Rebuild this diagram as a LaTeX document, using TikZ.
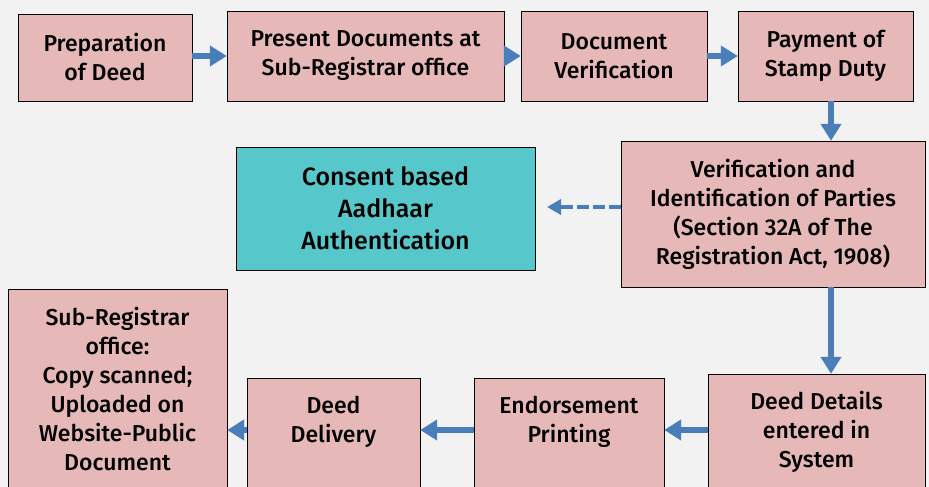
\documentclass[tikz,border=0pt]{standalone}
\usepackage{fontspec}
\setmainfont{Fira Sans}[UprightFont=* Medium]
\usepackage{tikz}
\usepackage{xcolor}
\usetikzlibrary{arrows.meta}
\definecolor{bg}{HTML}{F2F2F2}
\definecolor{rose}{HTML}{E6B8B7}
\definecolor{teal-box}{HTML}{56C7CA}
\definecolor{arrow-blue}{HTML}{4A7EBB}
\tikzset{
    step-box/.style = {draw=black, fill=rose, thin, rectangle, align=center, inner sep=2pt, font=\fontsize{23}{29}\selectfont},
    aadhaar-box/.style = {step-box, fill=teal-box, font=\fontsize{25}{32}\selectfont},
    flow-arrow/.style = {draw=arrow-blue, line width=6.5pt, -{Triangle[length=17pt, width=20pt]}},
    dash-arrow/.style = {draw=arrow-blue, line width=4.5pt, dash pattern=on 12pt off 4pt, -{Triangle[length=14pt, width=15pt]}},
}

\begin{document}
\begin{tikzpicture}[x=1pt, y=-1pt]
\useasboundingbox (0,0) rectangle (929,487);
\fill[bg] (0,0) rectangle (929,487);
% top row
\node[step-box, minimum width=174pt, minimum height=87pt] (prep) at (105,57.5) {Preparation\\of Deed};
\node[step-box, minimum width=277pt, minimum height=90pt] (present) at (365.5,56) {Present Documents at\\Sub-Registrar office};
\node[step-box, minimum width=186pt, minimum height=90pt] (docver) at (614,56) {Document\\Verification};
\node[step-box, minimum width=175pt, minimum height=90pt] (stamp) at (825.5,56) {Payment of\\Stamp Duty};
% middle row
\node[step-box, minimum width=304pt, minimum height=146pt] (identify) at (773,214) {Verification and\\Identification of Parties\\(Section 32A of The\\Registration Act, 1908)};
\node[aadhaar-box, minimum width=299pt, minimum height=123pt] (aadhaar) at (385.5,208.5) {Consent based\\Aadhaar\\Authentication};
\coordinate (aadhaar-tip) at (547,207);
% bottom row
\node[step-box, minimum width=217pt, minimum height=116pt] (details) at (816.5,432) {Deed Details\\entered in\\System};
\node[step-box, minimum width=190pt, minimum height=112pt] (endorse) at (569,434) {Endorsement\\Printing\\[0pt]};
\node[step-box, minimum width=173pt, minimum height=112pt] (delivery) at (333.5,434) {Deed\\Delivery\\[0pt]};
\node[step-box, minimum width=219pt, minimum height=201pt] (upload) at (117.5,389.5) {Sub-Registrar\\office:\\Copy scanned;\\Uploaded on\\Website-Public\\Document};
% arrows
\draw[flow-arrow] (prep.east |- 0,56) -- (present.west |- 0,56);
\draw[flow-arrow] (present.east) -- (docver.west);
\draw[flow-arrow] (docver.east) -- (stamp.west);
\draw[flow-arrow] (stamp.south -| 831,0) -- (identify.north -| 831,0);
\draw[dash-arrow] (identify.west |- aadhaar-tip) -- (aadhaar-tip);
\draw[flow-arrow] (identify.south -| 831,0) -- (details.north -| 831,0);
\draw[flow-arrow] (details.west |- 0,430) -- (endorse.east |- 0,430);
\draw[flow-arrow] (endorse.west |- 0,430) -- (delivery.east |- 0,430);
\draw[flow-arrow] (delivery.west |- 0,430) -- (upload.east |- 0,430);
\end{tikzpicture}
\end{document}
